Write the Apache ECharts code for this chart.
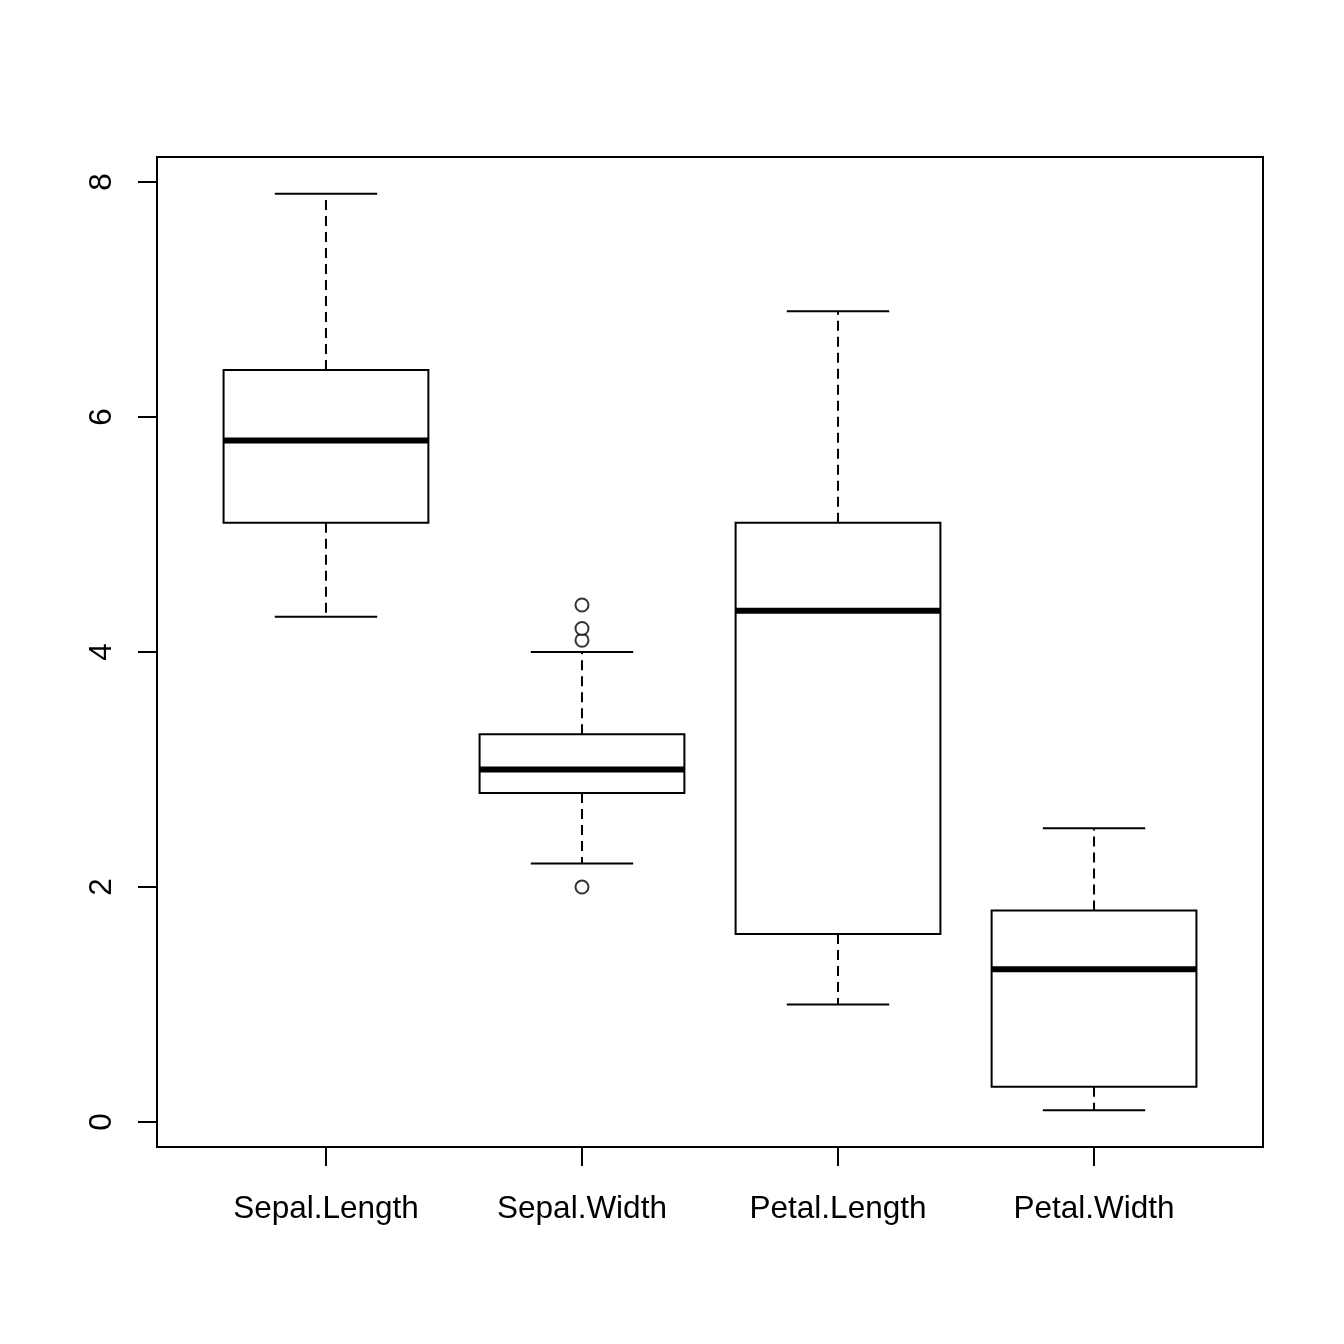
<!DOCTYPE html>
<html>
<head>
<meta charset="utf-8">
<title>iris boxplot</title>
<script src="https://cdn.jsdelivr.net/npm/echarts@6/dist/echarts.min.js"></script>
<style>
  html, body { margin: 0; padding: 0; background: #fff; }
  #main { width: 1344px; height: 1344px; }
</style>
</head>
<body>
<div id="main"></div>
<script>
var categories = ['Sepal.Length', 'Sepal.Width', 'Petal.Length', 'Petal.Width'];
var whiskerLow = [4.3, 2.2, 1.0, 0.1];
var quartile1 = [5.1, 2.8, 1.6, 0.3];
var medians = [5.8, 3.0, 4.35, 1.3];
var quartile3 = [6.4, 3.3, 5.1, 1.8];
var whiskerHigh = [7.9, 4.0, 6.9, 2.5];
var outliers = [[2, 4.4], [2, 4.1], [2, 4.2], [2, 2.0]];
var yTicks = [0, 2, 4, 6, 8];

var font = 'Liberation Sans, Arial, sans-serif';
var boxHalf = 0.4;
var capHalf = 0.2;

var boxData = categories.map(function (name, i) {
    return [i + 1, whiskerLow[i], quartile1[i], medians[i], quartile3[i], whiskerHigh[i]];
});

function renderBox(params, api) {
    var x = api.value(0);
    var lo = api.coord([x, api.value(1)]);
    var q1 = api.coord([x, api.value(2)]);
    var md = api.coord([x, api.value(3)]);
    var q3 = api.coord([x, api.value(4)]);
    var hi = api.coord([x, api.value(5)]);
    var left = api.coord([x - boxHalf, 0])[0];
    var right = api.coord([x + boxHalf, 0])[0];
    var capL = api.coord([x - capHalf, 0])[0];
    var capR = api.coord([x + capHalf, 0])[0];
    var cx = lo[0];
    var solid = { stroke: '#000', lineWidth: 2, fill: null };
    var dashed = { stroke: '#000', lineWidth: 2, lineDash: [10, 6] };
    return {
        type: 'group',
        children: [
            { type: 'line', shape: { x1: cx, y1: q3[1], x2: cx, y2: hi[1] }, style: dashed },
            { type: 'line', shape: { x1: cx, y1: q1[1], x2: cx, y2: lo[1] }, style: dashed },
            { type: 'line', shape: { x1: capL, y1: hi[1], x2: capR, y2: hi[1] }, style: solid },
            { type: 'line', shape: { x1: capL, y1: lo[1], x2: capR, y2: lo[1] }, style: solid },
            { type: 'rect', shape: { x: left, y: q3[1], width: right - left, height: q1[1] - q3[1] },
              style: { stroke: '#000', lineWidth: 2, fill: '#fff' } },
            { type: 'line', shape: { x1: left, y1: md[1], x2: right, y2: md[1] },
              style: { stroke: '#000', lineWidth: 6 } }
        ]
    };
}

var myChart = echarts.init(document.getElementById('main'));
var option = {
    backgroundColor: '#fff',
    animation: false,
    grid: {
        left: 157, right: 81, top: 157, bottom: 197,
        show: true, borderColor: '#000', borderWidth: 2, backgroundColor: 'transparent'
    },
    xAxis: {
        type: 'value',
        min: 0.34,
        max: 4.66,
        splitLine: { show: false },
        axisLine: { show: false, onZero: false },
        axisTick: { show: true, inside: false, length: 19, customValues: [1, 2, 3, 4],
                    lineStyle: { color: '#000', width: 2 } },
        axisLabel: {
            customValues: [1, 2, 3, 4],
            margin: 46,
            color: '#000',
            fontFamily: font,
            fontSize: 31.5,
            formatter: function (v) { return categories[Math.round(v) - 1]; }
        }
    },
    yAxis: {
        type: 'value',
        min: -0.212,
        max: 8.212,
        splitLine: { show: false },
        axisLine: { show: false, onZero: false },
        axisTick: { show: true, inside: false, length: 19, customValues: yTicks,
                    lineStyle: { color: '#000', width: 2 } },
        axisLabel: {
            customValues: yTicks,
            rotate: 90,
            margin: 39,
            color: '#000',
            fontFamily: font,
            fontSize: 31.5
        }
    },
    series: [
        {
            type: 'custom',
            renderItem: renderBox,
            data: boxData,
            encode: { x: 0, y: [1, 2, 3, 4, 5] },
            silent: true
        },
        {
            type: 'scatter',
            data: outliers,
            symbol: 'emptyCircle',
            symbolSize: 13,
            itemStyle: { color: '#000', borderColor: '#000', borderWidth: 2 },
            silent: true
        }
    ]
};
myChart.setOption(option);
</script>
</body>
</html>
